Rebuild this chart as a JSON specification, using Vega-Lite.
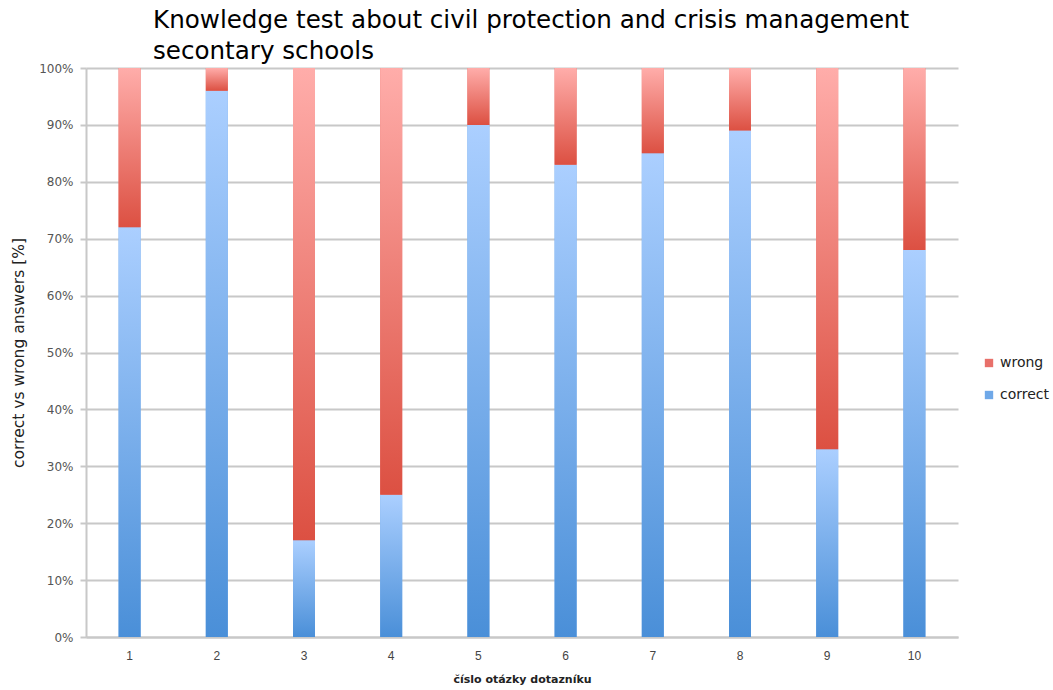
{
  "$schema": "https://vega.github.io/schema/vega-lite/v6.json",
  "width": 872,
  "height": 569,
  "autosize": {"type": "none"},
  "padding": {"left": 86, "top": 68, "right": 95, "bottom": 53},
  "background": "white",
  "title": {
    "text": ["Knowledge test about civil protection and crisis management", "secontary schools"],
    "anchor": "start",
    "frame": "group",
    "dx": 67,
    "offset": -3,
    "font": "DejaVu Sans",
    "fontSize": 24.6,
    "fontWeight": "normal",
    "lineHeight": 31,
    "color": "#000000"
  },
  "data": {
    "values": [
      {"q": "1", "answer": "correct", "pct": 72}, {"q": "1", "answer": "wrong", "pct": 28},
      {"q": "2", "answer": "correct", "pct": 96}, {"q": "2", "answer": "wrong", "pct": 4},
      {"q": "3", "answer": "correct", "pct": 17}, {"q": "3", "answer": "wrong", "pct": 83},
      {"q": "4", "answer": "correct", "pct": 25}, {"q": "4", "answer": "wrong", "pct": 75},
      {"q": "5", "answer": "correct", "pct": 90}, {"q": "5", "answer": "wrong", "pct": 10},
      {"q": "6", "answer": "correct", "pct": 83}, {"q": "6", "answer": "wrong", "pct": 17},
      {"q": "7", "answer": "correct", "pct": 85}, {"q": "7", "answer": "wrong", "pct": 15},
      {"q": "8", "answer": "correct", "pct": 89}, {"q": "8", "answer": "wrong", "pct": 11},
      {"q": "9", "answer": "correct", "pct": 33}, {"q": "9", "answer": "wrong", "pct": 67},
      {"q": "10", "answer": "correct", "pct": 68}, {"q": "10", "answer": "wrong", "pct": 32}
    ]
  },
  "transform": [
    {"stack": "pct", "groupby": ["q"], "sort": [{"field": "answer", "order": "ascending"}], "as": ["y0", "y1"]}
  ],
  "encoding": {
    "x": {
      "field": "q",
      "type": "ordinal",
      "sort": ["1", "2", "3", "4", "5", "6", "7", "8", "9", "10"],
      "scale": {"paddingInner": 0, "paddingOuter": 0},
      "axis": {
        "title": "číslo otázky dotazníku",
        "titleFont": "DejaVu Sans",
        "titleFontSize": 11,
        "titleFontWeight": "bold",
        "titleColor": "#222222",
        "titlePadding": 12,
        "labelAngle": 0,
        "labelFont": "Liberation Sans",
        "labelFontSize": 12,
        "labelColor": "#444444",
        "labelPadding": 13,
        "ticks": false,
        "domainColor": "#c8c8c8",
        "domainWidth": 2,
        "grid": false
      }
    },
    "y": {
      "field": "y0",
      "type": "quantitative",
      "scale": {"domain": [0, 100], "nice": false},
      "axis": {
        "title": "correct vs wrong answers [%]",
        "titleFont": "DejaVu Sans",
        "titleFontSize": 15.5,
        "titleFontWeight": "normal",
        "titleColor": "#222222",
        "titlePadding": 12,
        "values": [0, 10, 20, 30, 40, 50, 60, 70, 80, 90, 100],
        "labelExpr": "datum.value + '%'",
        "labelFont": "DejaVu Sans",
        "labelFontSize": 12,
        "labelColor": "#555555",
        "labelPadding": 7,
        "tickSize": 6,
        "tickColor": "#c8c8c8",
        "tickWidth": 2,
        "domainColor": "#c8c8c8",
        "domainWidth": 2,
        "grid": true,
        "gridColor": "#c8c8c8",
        "gridWidth": 2
      }
    },
    "y2": {"field": "y1"}
  },
  "layer": [
    {
      "mark": {"type": "bar", "size": 22},
      "encoding": {
        "color": {
          "field": "answer",
          "type": "nominal",
          "scale": {"domain": ["wrong", "correct"], "range": ["#e8706a", "#6fa8e8"]},
          "legend": {
            "title": null,
            "orient": "none",
            "legendX": 896,
            "legendY": 288,
            "symbolType": "square",
            "symbolSize": 70,
            "labelFont": "DejaVu Sans",
            "labelFontSize": 14,
            "labelColor": "#222222",
            "labelOffset": 4,
            "rowPadding": 18
          }
        }
      }
    },
    {
      "transform": [{"filter": "datum.answer === 'correct'"}],
      "mark": {
        "type": "bar",
        "size": 22,
        "color": {
          "gradient": "linear", "x1": 0, "y1": 0, "x2": 0, "y2": 1,
          "stops": [{"offset": 0, "color": "#abcfff"}, {"offset": 1, "color": "#4a8fd8"}]
        }
      }
    },
    {
      "transform": [{"filter": "datum.answer === 'wrong'"}],
      "mark": {
        "type": "bar",
        "size": 22,
        "color": {
          "gradient": "linear", "x1": 0, "y1": 0, "x2": 0, "y2": 1,
          "stops": [{"offset": 0, "color": "#ffadaa"}, {"offset": 1, "color": "#dc5042"}]
        }
      }
    }
  ],
  "config": {"view": {"stroke": null}}
}
